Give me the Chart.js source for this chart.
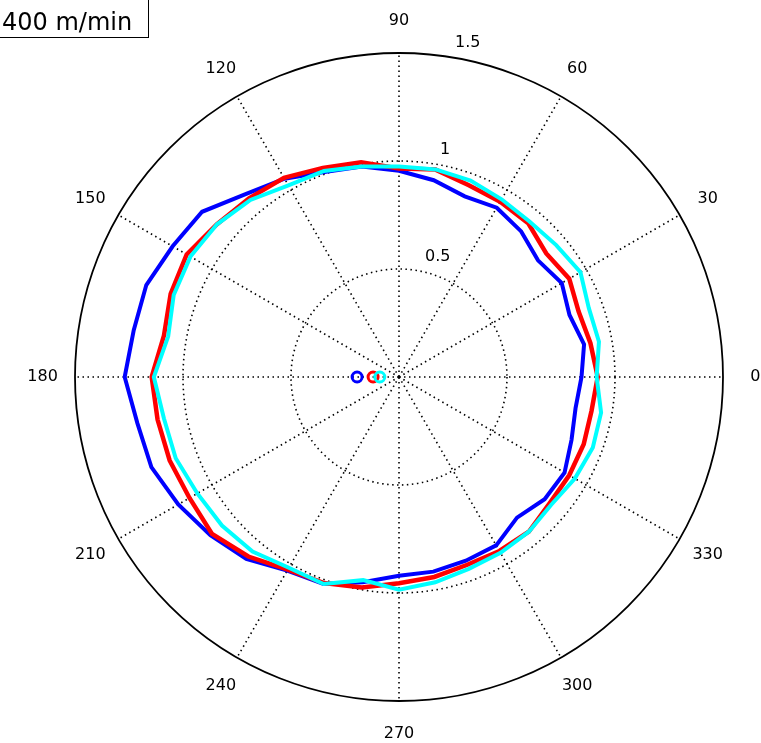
<!DOCTYPE html>
<html>
<head>
<meta charset="utf-8">
<script src="https://cdn.jsdelivr.net/npm/chart.js@4"></script>
<style>
  html, body { margin: 0; padding: 0; background: #fff; }
  canvas { display: block; }
</style>
</head>
<body>
<canvas id="polar" width="761" height="743"></canvas>
<script>
// angles in degrees (matlab convention: 0 = right, counter-clockwise)
const angles = [0, 10, 20, 30, 40, 50, 60, 70, 80, 90, 100, 110, 120, 130, 140, 150, 160, 170,
                180, 190, 200, 210, 220, 230, 240, 250, 260, 270, 280, 290, 300, 310, 320, 330, 340, 350];

const blueR = [0.845, 0.87, 0.84, 0.87, 0.84, 0.88, 0.905, 0.89, 0.925, 0.955, 0.99, 1.01,
               1.06, 1.105, 1.19, 1.21, 1.245, 1.247, 1.27, 1.23, 1.22, 1.18, 1.14, 1.10,
               1.035, 1.02, 0.965, 0.92, 0.915, 0.905, 0.90, 0.85, 0.88, 0.885, 0.85, 0.83];
const redR = [0.92, 0.90, 0.885, 0.91, 0.89, 0.93, 0.937, 0.945, 0.975, 0.965, 1.01, 1.03,
              1.065, 1.08, 1.10, 1.135, 1.125, 1.105, 1.145, 1.135, 1.13, 1.12, 1.13, 1.085,
              1.03, 1.015, 0.99, 0.955, 0.94, 0.925, 0.93, 0.935, 0.91, 0.91, 0.91, 0.905];
const cyanR = [0.915, 0.94, 0.935, 0.97, 0.95, 0.94, 0.95, 0.968, 0.976, 0.975, 0.99, 1.015,
               1.024, 1.07, 1.10, 1.115, 1.11, 1.085, 1.135, 1.105, 1.10, 1.078, 1.07, 1.055,
               1.02, 1.02, 0.955, 0.985, 0.965, 0.945, 0.94, 0.935, 0.92, 0.94, 0.955, 0.95];

// little circles near the centre, all at 180 deg
const markerAngle = 180;
const markerR = [0.194, 0.12, 0.089];

const radialTicks = [0.5, 1, 1.5];
const angleTicks = [0, 30, 60, 90, 120, 150, 180, 210, 240, 270, 300, 330];
const titleText = '400 m/min';

// radar index 0 is at the top and goes clockwise -> map to matlab angles
const n = angles.length;
const step = 360 / n;
const idxAngle = angles.map((a, i) => ((90 - i * step) % 360 + 360) % 360);
const byIndex = arr => idxAngle.map(a => arr[angles.indexOf(a)]);
const markerData = r => idxAngle.map(a => (a === markerAngle ? r : null));

const FONT = '"DejaVu Sans", "Liberation Sans", sans-serif';

const textPlugin = {
  id: 'polarText',
  afterDraw(chart) {
    const s = chart.scales.r;
    const ctx = chart.ctx;
    ctx.save();
    ctx.fillStyle = '#000';

    // angle labels at 1.1 * rmax, centred
    ctx.font = '16px ' + FONT;
    ctx.textAlign = 'center';
    ctx.textBaseline = 'middle';
    const rl = s.getDistanceFromCenterForValue(s.max) * 1.1;
    angleTicks.forEach(a => {
      const i = idxAngle.indexOf(a);
      const p = s.getPointPosition(i, rl);
      ctx.fillText(String(a), p.x, p.y);
    });

    // radial tick labels along 82 deg
    ctx.textAlign = 'left';
    ctx.textBaseline = 'bottom';
    const t = 82 * Math.PI / 180;
    radialTicks.forEach(v => {
      const d = s.getDistanceFromCenterForValue(v + 0.025);
      ctx.fillText('  ' + v, s.xCenter + d * Math.cos(t), s.yCenter - d * Math.sin(t));
    });

    // title box top left
    ctx.font = '24px ' + FONT;
    ctx.textBaseline = 'alphabetic';
    ctx.fillStyle = '#fff';
    ctx.fillRect(0, 0, 148, 37);
    ctx.strokeStyle = '#000';
    ctx.lineWidth = 1;
    ctx.strokeRect(-1.5, -1.5, 150, 39);
    ctx.fillStyle = '#000';
    ctx.fillText(titleText, 2, 30);
    ctx.restore();
  }
};

const line = (data, color, width, order) => ({
  data: byIndex(data),
  borderColor: color,
  borderWidth: width,
  pointRadius: 0,
  fill: false,
  tension: 0,
  order: order
});
const marker = (r, color, order) => ({
  data: markerData(r),
  showLine: false,
  borderColor: color,
  backgroundColor: 'rgba(0,0,0,0)',
  pointRadius: 5,
  pointBorderWidth: 3,
  pointBackgroundColor: 'rgba(0,0,0,0)',
  pointBorderColor: color,
  order: order
});

new Chart(document.getElementById('polar'), {
  type: 'radar',
  data: {
    labels: idxAngle.map(String),
    datasets: [
      line(blueR, '#0000ff', 4, 2),
      line(redR, '#ff0000', 4.5, 1),
      line(cyanR, '#00ffff', 4, 0),
      marker(markerR[0], '#0000ff', 5),
      marker(markerR[1], '#ff0000', 4),
      marker(markerR[2], '#00ffff', 3)
    ]
  },
  options: {
    responsive: false,
    animation: false,
    layout: { padding: { left: 75, right: 38, top: 53, bottom: 42 } },
    plugins: {
      legend: { display: false },
      tooltip: { enabled: false }
    },
    scales: {
      r: {
        min: 0,
        max: 1.5,
        ticks: { display: false, stepSize: 0.5 },
        pointLabels: { display: false },
        grid: {
          circular: true,
          color: '#000',
          lineWidth: ctx => (ctx.tick && ctx.tick.value === 1.5 ? 1.8 : 1.6)
        },
        border: {
          dash: ctx => (ctx.tick && ctx.tick.value === 1.5 ? [] : [1.5, 3.5])
        },
        angleLines: {
          color: ctx => (idxAngle[ctx.index] % 30 === 0 ? '#000' : 'rgba(0,0,0,0)'),
          lineWidth: 1.6,
          borderDash: [1.5, 3.5]
        }
      }
    }
  },
  plugins: [textPlugin]
});
</script>
</body>
</html>
